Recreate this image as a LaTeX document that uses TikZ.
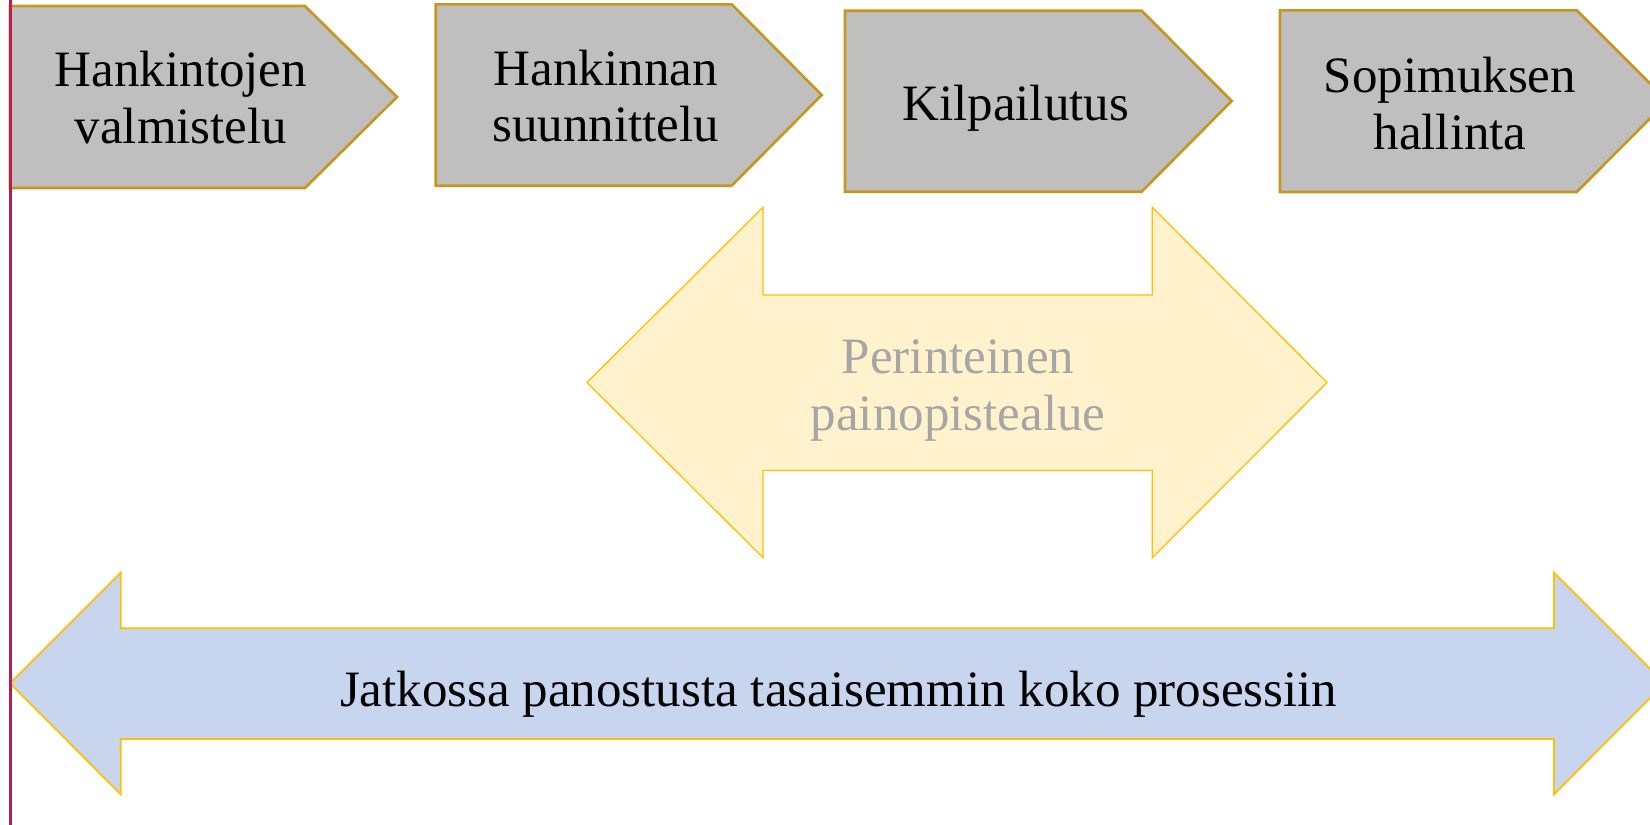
\documentclass[tikz,border=0pt]{standalone}
\usepackage{fontspec}
\setmainfont{Liberation Serif}
\definecolor{boxgray}{RGB}{191,191,191}
\definecolor{boxedge}{RGB}{200,150,30}
\definecolor{ylwfill}{RGB}{255,242,204}
\definecolor{ylwedge}{RGB}{255,192,0}
\definecolor{bluefill}{RGB}{200,213,238}
\definecolor{txtgray}{RGB}{166,166,166}
\definecolor{redline}{RGB}{180,30,85}
\tikzset{
  stepshape/.style={fill=boxgray, draw=boxedge, line width=2.6pt, line join=miter},
  steplabel/.style={font=\fontsize{51}{56.5}\selectfont, align=center, text=black, inner sep=0pt, anchor=base},
  oldarrow/.style={fill=ylwfill, draw=ylwedge, line width=1.3pt, line join=miter},
  newarrow/.style={fill=bluefill, draw=ylwedge, line width=1.8pt, line join=miter},
}
\begin{document}
\begin{tikzpicture}[x=1pt,y=-1pt]
\useasboundingbox (0,0) rectangle (1650,825);
\clip (0,0) rectangle (1650,825);
\fill[white] (0,0) rectangle (1650,825);
% process steps
\draw[stepshape] (10,6) -- (305,6) -- (397,97) -- (305,188) -- (10,188) -- cycle;
\draw[stepshape] (435.7,4.3) -- (731.7,4.3) -- (821.7,95) -- (731.7,185.7) -- (435.7,185.7) -- cycle;
\draw[stepshape] (845,10.7) -- (1141.7,10.7) -- (1231.7,101) -- (1141.7,191.7) -- (845,191.7) -- cycle;
\draw[stepshape] (1280,10.3) -- (1576.7,10.3) -- (1667.5,101) -- (1576.7,192) -- (1280,192) -- cycle;
\node[steplabel] (s1) at (181,143.3) {Hankintojen\\valmistelu};
\node[steplabel] (s2) at (605.8,141.7) {Hankinnan\\suunnittelu};
\node[steplabel] (s3) at (1015.8,120) {Kilpailutus};
\node[steplabel] (s4) at (1450,149) {Sopimuksen\\hallinta};
% traditional focus
\draw[oldarrow] (587,382.5) -- (763,207.3) -- (763,295) -- (1152.3,295) -- (1152.3,207.3) -- (1327,382.5)
  -- (1152.3,557.7) -- (1152.3,470.4) -- (763,470.4) -- (763,557.7) -- cycle;
\node[steplabel, text=txtgray] (old) at (958,430) {Perinteinen\\painopistealue};
% new focus
\draw[newarrow] (10,683.3) -- (120.7,572.7) -- (120.7,628.3) -- (1554,628.3) -- (1554,572.7) -- (1664.7,683.3)
  -- (1554,794.3) -- (1554,739) -- (120.7,739) -- (120.7,794.3) -- cycle;
\node[steplabel] (new) at (838.7,706) {Jatkossa panostusta tasaisemmin koko prosessiin};
% left margin line
\draw[redline, line width=3pt] (10.5,0) -- (10.5,825);
\end{tikzpicture}
\end{document}
